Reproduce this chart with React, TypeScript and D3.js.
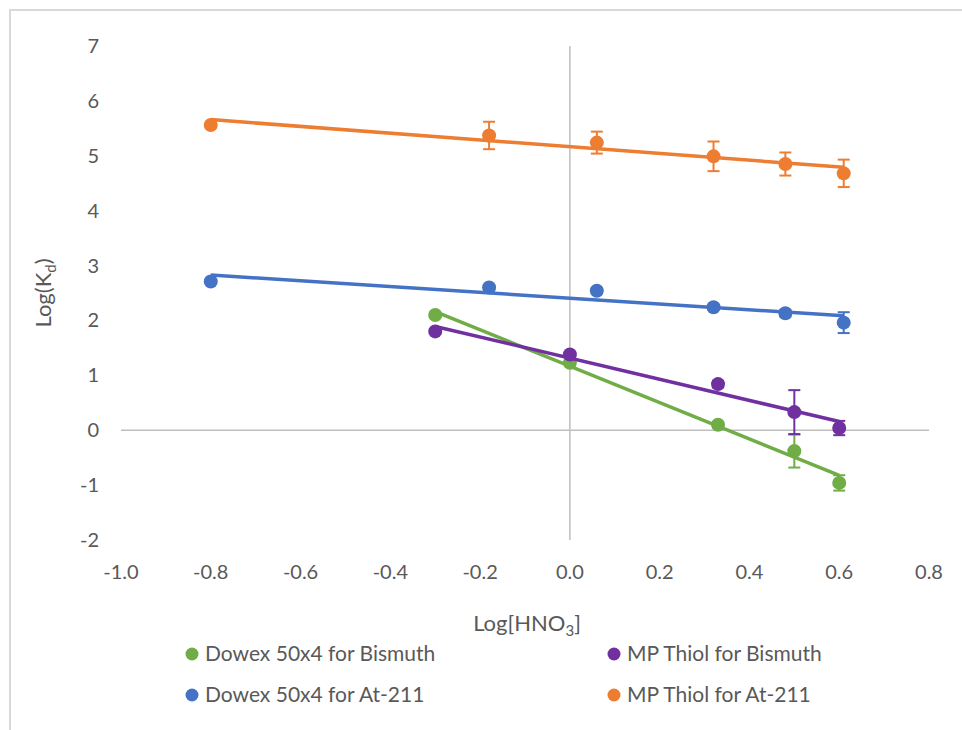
import { useMemo } from "react";
import * as d3 from "d3";

// log[HNO3] positions
const xAt = [-0.8, -0.18, 0.06, 0.32, 0.48, 0.61];
const xBi = [-0.3, 0.0, 0.33, 0.5, 0.6];

// log(Kd) values with error bars
const dowexBi = [2.1, 1.23, 0.1, -0.38, -0.96];
const dowexBiErr = [0.04, 0.05, 0.05, 0.3, 0.14];
const thiolBi = [1.8, 1.38, 0.84, 0.33, 0.04];
const thiolBiErr = [0.04, 0.05, 0.06, 0.4, 0.13];
const dowexAt = [2.71, 2.6, 2.54, 2.24, 2.13, 1.96];
const dowexAtErr = [0.03, 0.05, 0.05, 0.05, 0.06, 0.19];
const thiolAt = [5.56, 5.37, 5.24, 4.99, 4.85, 4.68];
const thiolAtErr = [0.04, 0.25, 0.2, 0.27, 0.21, 0.25];

const xTicks = [-1.0, -0.8, -0.6, -0.4, -0.2, 0.0, 0.2, 0.4, 0.6, 0.8];
const yTicks = [-2, -1, 0, 1, 2, 3, 4, 5, 6, 7];

type Series = { name: string; color: string; x: number[]; y: number[]; err: number[] };

const series: Series[] = [
  { name: "Dowex 50x4 for Bismuth", color: "#70AD47", x: xBi, y: dowexBi, err: dowexBiErr },
  { name: "MP Thiol for Bismuth", color: "#7030A0", x: xBi, y: thiolBi, err: thiolBiErr },
  { name: "Dowex 50x4 for At-211", color: "#4472C4", x: xAt, y: dowexAt, err: dowexAtErr },
  { name: "MP Thiol for At-211", color: "#ED7D31", x: xAt, y: thiolAt, err: thiolAtErr },
];

const FONT = "Lato, 'Open Sans', sans-serif";
const TEXT = "#595959";

// ordinary least squares, same as Excel's linear trendline
function fit(xs: number[], ys: number[]) {
  const mx = d3.mean(xs)!;
  const my = d3.mean(ys)!;
  const sxy = d3.sum(xs, (x, i) => (x - mx) * (ys[i] - my));
  const sxx = d3.sum(xs, (x) => (x - mx) ** 2);
  const slope = sxy / sxx;
  const icpt = my - slope * mx;
  return (x: number) => icpt + slope * x;
}

// Excel writes a plain hyphen for negatives
const fmt1 = (v: number) => d3.format(".1f")(v).replace("\u2212", "-");

export default function App() {
  const width = 962;
  const height = 730;
  const left = 121;
  const right = 929;
  const top = 46;
  const bottom = 540;

  const x = useMemo(() => d3.scaleLinear().domain([-1, 0.8]).range([left, right]), []);
  const y = useMemo(() => d3.scaleLinear().domain([-2, 7]).range([bottom, top]), []);
  const line = d3
    .line<[number, number]>()
    .x((d) => x(d[0]))
    .y((d) => y(d[1]));

  const legendCols = [192, 614];
  const legendRows = [654, 695];

  return (
    <>
      <style>{"body{margin:0}"}</style>
      <svg width={width} height={height} style={{ display: "block", background: "#fff" }} fontFamily={FONT}>
        <rect x={10} y={10} width={1200} height={1200} fill="#fff" stroke="#d9d9d9" strokeWidth={2} />

        {/* axes crossing at zero */}
        <line x1={x(0)} x2={x(0)} y1={top} y2={bottom} stroke="#bfbfbf" strokeWidth={1.5} />
        <line x1={left} x2={right} y1={y(0)} y2={y(0)} stroke="#bfbfbf" strokeWidth={1.5} />

        {yTicks.map((t) => (
          <text key={"y" + t} x={99} y={y(t)} dy="0.35em" textAnchor="end" fontSize={20} fill={TEXT}>
            {t}
          </text>
        ))}
        {xTicks.map((t) => (
          <text key={"x" + t} x={x(t)} y={579} textAnchor="middle" fontSize={20} fill={TEXT}>
            {fmt1(t)}
          </text>
        ))}

        <text x={527} y={631} textAnchor="middle" fontSize={22} fill={TEXT}>
          Log[HNO
          <tspan dy={5} fontSize={15}>3</tspan>
          <tspan dy={-5}>]</tspan>
        </text>
        <text transform={`translate(51,${(top + bottom) / 2}) rotate(-90)`} textAnchor="middle" fontSize={22} fill={TEXT}>
          Log(K
          <tspan dy={5} fontSize={15}>d</tspan>
          <tspan dy={-5}>)</tspan>
        </text>

        {series.map((s) => {
          const f = fit(s.x, s.y);
          const x0 = d3.min(s.x)!;
          const x1 = d3.max(s.x)!;
          return (
            <g key={s.name}>
              {s.x.map((xv, i) => {
                const cx = x(xv);
                const hi = y(s.y[i] + s.err[i]);
                const lo = y(s.y[i] - s.err[i]);
                return (
                  <g key={i} stroke={s.color} strokeWidth={2}>
                    <line x1={cx} x2={cx} y1={hi} y2={lo} />
                    <line x1={cx - 6} x2={cx + 6} y1={hi} y2={hi} />
                    <line x1={cx - 6} x2={cx + 6} y1={lo} y2={lo} />
                  </g>
                );
              })}
              {s.x.map((xv, i) => (
                <circle key={"p" + i} cx={x(xv)} cy={y(s.y[i])} r={7} fill={s.color} />
              ))}
              <path
                d={line([
                  [x0, f(x0)],
                  [x1, f(x1)],
                ]) ?? ""}
                fill="none"
                stroke={s.color}
                strokeWidth={3.5}
              />
            </g>
          );
        })}

        {series.map((s, i) => {
          const cx = legendCols[i % 2];
          const cy = legendRows[Math.floor(i / 2)];
          return (
            <g key={"lg" + i}>
              <circle cx={cx} cy={cy} r={6.5} fill={s.color} />
              <text x={cx + 13} y={cy} dy="0.35em" fontSize={21} fill={TEXT}>
                {s.name}
              </text>
            </g>
          );
        })}
      </svg>
    </>
  );
}
